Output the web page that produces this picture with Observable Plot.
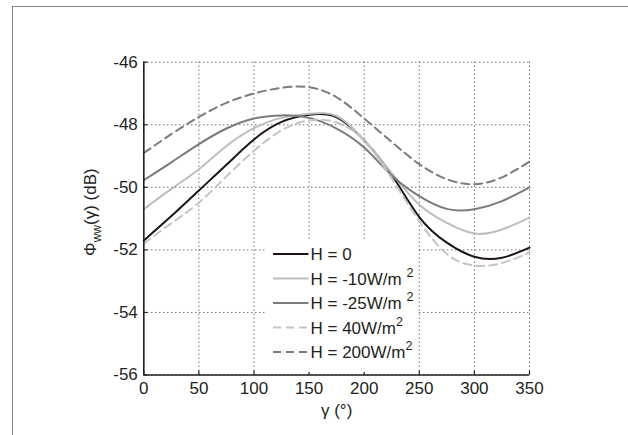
<!DOCTYPE html>
<html>
<head>
<meta charset="utf-8">
<script src="https://cdn.jsdelivr.net/npm/d3@7"></script>
<script src="https://cdn.jsdelivr.net/npm/@observablehq/plot@0.6"></script>
<style>
  html, body { margin: 0; padding: 0; background: #fff; }
  #wrap { position: relative; width: 628px; height: 435px; overflow: hidden; font-family: "Liberation Sans", Arial, Helvetica, sans-serif; }
  #border { position: absolute; left: 12px; top: 6px; width: 700px; height: 500px; border-left: 1.5px solid #858585; border-top: 1.5px solid #858585; pointer-events: none; }
  #legend { position: absolute; left: 0; top: 0; }
</style>
</head>
<body>
<div id="wrap"><div id="border"></div></div>
<script>
// Angle gamma (degrees)
const gamma = [0, 25, 50, 75, 100, 125, 150, 175, 200, 225, 250, 275, 300, 325, 350];
// Phi_ww(gamma) in dB for each heat flux H
const h0    = [-51.7, -50.92, -50.1, -49.28, -48.47, -47.91, -47.68, -47.76, -48.5, -49.6, -50.95, -51.77, -52.22, -52.25, -51.93];
const hm10  = [-50.7, -50.05, -49.42, -48.68, -48.11, -47.78, -47.65, -47.72, -48.5, -49.55, -50.56, -51.14, -51.48, -51.35, -50.97];
const hm25  = [-49.77, -49.2, -48.62, -48.12, -47.8, -47.7, -47.78, -48.12, -48.73, -49.62, -50.28, -50.69, -50.7, -50.44, -50.0];
const h40   = [-51.8, -51.15, -50.49, -49.65, -48.83, -48.18, -47.86, -47.93, -48.5, -49.72, -51.08, -52.13, -52.5, -52.42, -52.08];
const h200  = [-48.9, -48.3, -47.75, -47.3, -47.0, -46.82, -46.8, -47.12, -47.8, -48.55, -49.26, -49.74, -49.9, -49.68, -49.18];

const seriesNames = ["H = 0", "H = -10W/m 2", "H = -25W/m 2", "H = 40W/m2", "H = 200W/m2"];
const seriesValues = [h0, hm10, hm25, h40, h200];

const xTicks = [0, 50, 100, 150, 200, 250, 300, 350];
const yTicks = [-56, -54, -52, -50, -48, -46];

// styles (kept apart from data)
const styles = [
  {stroke: "#1e1411", dash: null},
  {stroke: "#bdbdbd", dash: null},
  {stroke: "#7b7b7b", dash: null},
  {stroke: "#c4c4c4", dash: "8,5"},
  {stroke: "#7b7b7b", dash: "8,5"}
];
const legendParts = [
  {main: "H = 0", sup: ""},
  {main: "H = -10W/m ", sup: "2"},
  {main: "H = -25W/m ", sup: "2"},
  {main: "H = 40W/m", sup: "2"},
  {main: "H = 200W/m", sup: "2"}
];

const rows = seriesValues.map((vals, i) => gamma.map((g, j) => ({g, v: vals[j], s: seriesNames[i]})));

const textColor = "#231f20";
const FS = 17;
const chart = Plot.plot({
  width: 628,
  height: 435,
  marginLeft: 143.3,
  marginRight: 99,
  marginTop: 61.7,
  marginBottom: 60.5,
  x: {domain: [0, 350]},
  y: {domain: [-56, -46]},
  style: {fontFamily: "'Liberation Sans', Arial, Helvetica, sans-serif", fontSize: FS + "px", color: textColor, background: "transparent"},
  marks: [
    Plot.gridX(xTicks, {stroke: "#333", strokeOpacity: 1, strokeWidth: 1, strokeDasharray: "1,3"}),
    Plot.gridY(yTicks, {stroke: "#333", strokeOpacity: 1, strokeWidth: 1, strokeDasharray: "1,3"}),
    Plot.axisX(xTicks, {anchor: "bottom", tickSize: 0, tickPadding: 7, fontSize: FS, label: null, fill: textColor}),
    Plot.axisY(yTicks, {anchor: "left", tickSize: 0, tickPadding: 6, fontSize: FS, label: null, fill: textColor, tickFormat: d => String(d).replace("−", "-")}),
    Plot.axisX(xTicks, {anchor: "bottom", tickSize: 4, dy: -4, tickFormat: () => "", label: null, stroke: textColor, strokeWidth: 1.2}),
    Plot.axisY(yTicks, {anchor: "left", tickSize: 4, dx: 4, tickFormat: () => "", label: null, stroke: textColor, strokeWidth: 1.2}),
    ...rows.map((r, i) => Plot.line(r, {
      x: "g", y: "v", curve: "natural",
      stroke: styles[i].stroke, strokeWidth: 2,
      strokeDasharray: styles[i].dash
    })),
    Plot.ruleX([0], {stroke: textColor, strokeWidth: 1.6}),
    Plot.ruleY([-56], {stroke: textColor, strokeWidth: 1.6}),
    Plot.text(["γ (°)"], {frameAnchor: "bottom", dy: 36, lineAnchor: "middle", fontSize: FS, fill: textColor})
  ]
});

const wrap = document.getElementById("wrap");
wrap.insertBefore(chart, wrap.firstChild);

// y axis label with subscript
const svg = d3.select(chart);
const ys = chart.scale("y");
const yMid = (ys.range[0] + ys.range[1]) / 2;
const ylab = svg.append("text")
  .attr("transform", `translate(96,${yMid - 6}) rotate(-90)`)
  .attr("text-anchor", "middle")
  .attr("font-size", FS)
  .attr("fill", textColor);
ylab.append("tspan").text("Φ");
ylab.append("tspan").attr("font-size", 12).attr("dy", "0.4em").text("ww");
ylab.append("tspan").attr("dy", "-0.3em").text("(γ) (dB)");

// legend overlay
const leg = d3.select(wrap).append("svg").attr("id", "legend").attr("width", 628).attr("height", 435);
leg.append("rect").attr("x", 266).attr("y", 241).attr("width", 152).attr("height", 131).attr("fill", "#fff");
legendParts.forEach((p, i) => {
  const cy = 254 + i * 24.5;
  leg.append("line").attr("x1", 273).attr("x2", 308.5).attr("y1", cy).attr("y2", cy)
    .attr("stroke", styles[i].stroke).attr("stroke-width", 2)
    .attr("stroke-dasharray", styles[i].dash);
  const t = leg.append("text").attr("x", 310.5).attr("y", cy + 6.2)
    .attr("font-size", FS).attr("fill", textColor)
    .attr("font-family", "'Liberation Sans', Arial, Helvetica, sans-serif")
    .attr("xml:space", "preserve").style("white-space", "pre");
  t.append("tspan").text(p.main);
  if (p.sup) t.append("tspan").attr("font-size", 12.5).attr("dy", -8).text(p.sup);
});
</script>
</body>
</html>
